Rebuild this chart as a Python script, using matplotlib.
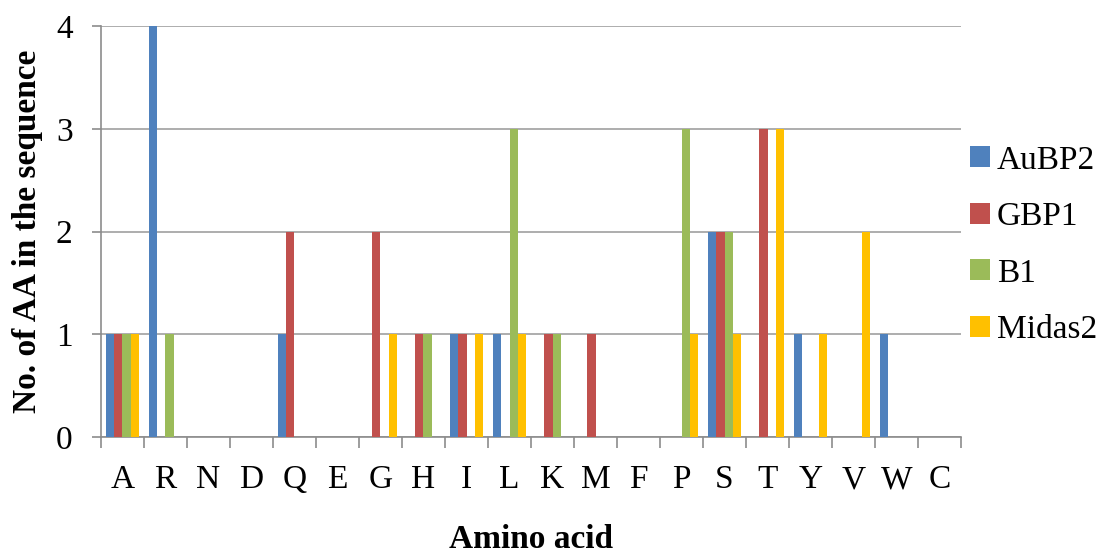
import matplotlib
matplotlib.use("Agg")
import matplotlib.pyplot as plt
import numpy as np

categories = ["A", "R", "N", "D", "Q", "E", "G", "H", "I", "L",
              "K", "M", "F", "P", "S", "T", "Y", "V", "W", "C"]
aubp2 = [1, 4, 0, 0, 1, 0, 0, 0, 1, 1, 0, 0, 0, 0, 2, 0, 1, 0, 1, 0]
gbp1 = [1, 0, 0, 0, 2, 0, 2, 1, 1, 0, 1, 1, 0, 0, 2, 3, 0, 0, 0, 0]
b1 = [1, 1, 0, 0, 0, 0, 0, 1, 0, 3, 1, 0, 0, 3, 2, 0, 0, 0, 0, 0]
midas2 = [1, 0, 0, 0, 0, 0, 1, 0, 1, 1, 0, 0, 0, 1, 1, 3, 1, 2, 0, 0]
series_names = ["AuBP2", "GBP1", "B1", "Midas2"]
colors = ["#4F81BD", "#C0504D", "#9BBB59", "#FFC000"]

plt.rcParams['font.family'] = ['Liberation Serif', 'DejaVu Serif']

fig = plt.figure(figsize=(11.11, 5.58), dpi=100)
ax = fig.add_axes([0.0909, 0.2168, 0.7741, 0.7366])

x = np.arange(len(categories))
w = 0.1875
for i, (vals, name, c) in enumerate(zip([aubp2, gbp1, b1, midas2], series_names, colors)):
    ax.bar(x + (i - 1.5) * w, vals, width=w, color=c, label=name, zorder=3)

ax.set_xlim(-0.5, len(categories) - 0.5)
ax.set_ylim(0, 4)
ax.set_yticks([0, 1, 2, 3, 4])
ax.set_xticks(x)
ax.set_xticklabels(categories)
ax.set_xticks(np.arange(-0.5, len(categories)), minor=True)
ax.tick_params(axis='x', which='major', length=0, labelsize=24, pad=20)
ax.tick_params(axis='x', which='minor', length=8, width=1.2, color='#8C8C8C', direction='out')
ax.tick_params(axis='y', length=6.5, width=1.2, color='#8C8C8C', labelsize=24, pad=14)

ax.grid(axis='y', color='#A0A0A0', linewidth=1.2, zorder=0)
for s in ['top', 'right']:
    ax.spines[s].set_visible(False)
for s in ['left', 'bottom']:
    ax.spines[s].set_color('#8C8C8C')
    ax.spines[s].set_linewidth(1.2)

ax.set_ylabel("No. of AA in the sequence", fontsize=24, fontweight='bold', labelpad=9)
ax.set_xlabel("Amino acid", fontsize=24, fontweight='bold', labelpad=21)

ax.legend(loc='center left', bbox_to_anchor=(1.0, 0.467), frameon=False, fontsize=24,
          handlelength=0.6, handleheight=0.6, handletextpad=0.2, labelspacing=0.78,
          borderaxespad=0.0, borderpad=0.27)

fig.savefig("out.png", dpi=100)
